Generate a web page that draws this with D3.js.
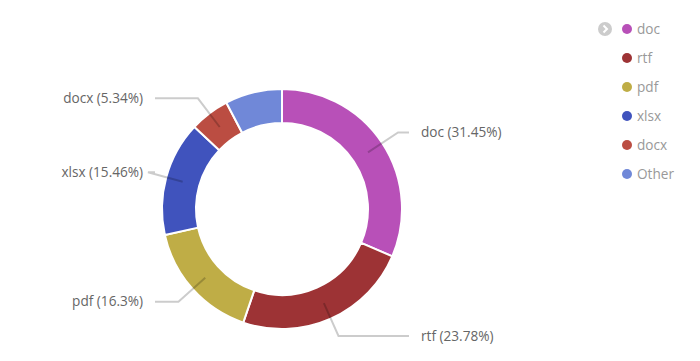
<!DOCTYPE html>
<html>
<head>
<meta charset="utf-8">
<script src="https://cdn.jsdelivr.net/npm/d3@7"></script>
<style>
  html, body { margin: 0; padding: 0; background: #fff; }
  svg { display: block; font-family: "Open Sans", sans-serif; }
</style>
</head>
<body>
<svg id="chart" width="700" height="361"></svg>
<script>
const categories = ["doc", "rtf", "pdf", "xlsx", "docx", "Other"];
const values = [31.45, 23.78, 16.3, 15.46, 5.34, 7.67];
const colors = ["#b850b8", "#9d3335", "#bfad46", "#4053bd", "#bb4d42", "#7088d8"];
const labelTexts = ["doc (31.45%)", "rtf (23.78%)", "pdf (16.3%)", "xlsx (15.46%)", "docx (5.34%)", null];

const svg = d3.select("#chart");
const cx = 282, cy = 209, rOuter = 120, rInner = 86;

const data = categories.map((c, i) => ({ name: c, value: values[i], color: colors[i], label: labelTexts[i] }));

const pie = d3.pie().value(d => d.value).sort(null);
const arcs = pie(data);
const arc = d3.arc().innerRadius(rInner).outerRadius(rOuter);
const midArc = d3.arc().innerRadius(103).outerRadius(103);
const elbowArc = d3.arc().innerRadius(139).outerRadius(139);

const g = svg.append("g").attr("transform", `translate(${cx},${cy})`);

g.selectAll("path.slice")
  .data(arcs)
  .join("path")
  .attr("class", "slice")
  .attr("d", arc)
  .attr("fill", d => d.data.color)
  .attr("stroke", "#fff")
  .attr("stroke-width", 2);

const labeled = arcs.filter(d => d.data.label);
const leftEnd = 155 - cx, rightEnd = 409 - cx;

g.selectAll("polyline.conn")
  .data(labeled)
  .join("polyline")
  .attr("class", "conn")
  .attr("fill", "none")
  .attr("stroke", "#000")
  .attr("stroke-opacity", 0.2)
  .attr("stroke-width", 2)
  .attr("points", d => {
    const p1 = midArc.centroid(d);
    const p2 = elbowArc.centroid(d);
    const right = p2[0] > 0;
    const endX = right ? rightEnd : leftEnd;
    return [p1, p2, [endX, p2[1]]].map(p => p.join(",")).join(" ");
  });

g.selectAll("text.lbl")
  .data(labeled)
  .join("text")
  .attr("class", "lbl")
  .attr("x", d => elbowArc.centroid(d)[0] > 0 ? rightEnd + 12 : leftEnd - 12)
  .attr("y", d => elbowArc.centroid(d)[1])
  .attr("dy", "0.35em")
  .attr("text-anchor", d => elbowArc.centroid(d)[0] > 0 ? "start" : "end")
  .attr("fill", "#666")
  .attr("font-size", 13.6)
  .text(d => d.data.label);

// Legend
const legend = svg.append("g");
const lx = 627, ly0 = 29, lstep = 29;

const nav = legend.append("g").attr("transform", `translate(605,${ly0})`);
nav.append("circle").attr("r", 7).attr("fill", "#ccc");
nav.append("path").attr("d", "M-1.5,-3.5 L2,0 L-1.5,3.5")
  .attr("fill", "none").attr("stroke", "#fff").attr("stroke-width", 2);

const items = legend.selectAll("g.item")
  .data(data)
  .join("g")
  .attr("class", "item")
  .attr("transform", (d, i) => `translate(${lx},${ly0 + i * lstep})`);
items.append("circle").attr("r", 5).attr("fill", d => d.color);
items.append("text")
  .attr("x", 10)
  .attr("dy", "0.35em")
  .attr("fill", "#999")
  .attr("font-size", 13.6)
  .text(d => d.name);
</script>
</body>
</html>
